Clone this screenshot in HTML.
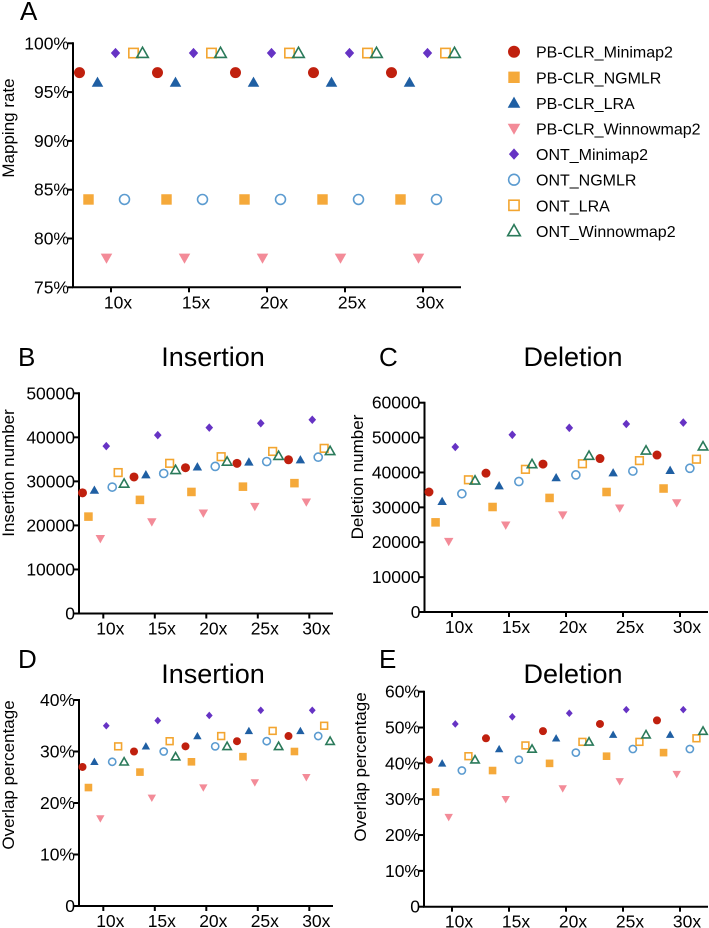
<!DOCTYPE html>
<html><head><meta charset="utf-8"><style>
html,body{margin:0;padding:0;background:#fff;}
svg{display:block;font-family:"Liberation Sans",Arial,sans-serif;}
</style></head><body>
<svg id="fig" width="709" height="928" viewBox="0 0 709 928" xmlns="http://www.w3.org/2000/svg">
<g id="static">
<text x="20" y="20" font-size="26">A</text>
<text x="18" y="366" font-size="26">B</text>
<text x="379" y="366" font-size="26">C</text>
<text x="18" y="668" font-size="26">D</text>
<text x="379" y="668" font-size="26">E</text>
<text x="213" y="366" font-size="27" text-anchor="middle">Insertion</text>
<text x="573" y="366" font-size="27" text-anchor="middle">Deletion</text>
<text x="213" y="683" font-size="27" text-anchor="middle">Insertion</text>
<text x="573" y="683" font-size="27" text-anchor="middle">Deletion</text>
<text transform="translate(14,128) rotate(-90)" font-size="17" text-anchor="middle">Mapping rate</text>
<text transform="translate(14,473) rotate(-90)" font-size="17" text-anchor="middle">Insertion number</text>
<text transform="translate(363,477) rotate(-90)" font-size="17" text-anchor="middle">Deletion number</text>
<text transform="translate(14,775) rotate(-90)" font-size="17" text-anchor="middle">Overlap percentage</text>
<text transform="translate(366,767) rotate(-90)" font-size="17" text-anchor="middle">Overlap percentage</text>
</g>
</svg>
<script>
const coverages = [10, 15, 20, 25, 30];
const seriesNames = ["PB-CLR_Minimap2","PB-CLR_NGMLR","PB-CLR_LRA","PB-CLR_Winnowmap2","ONT_Minimap2","ONT_NGMLR","ONT_LRA","ONT_Winnowmap2"];
const mappingRate = [
  [97,97,97,97,97],[84,84,84,84,84],[96,96,96,96,96],[78,78,78,78,78],
  [99,99,99,99,99],[84,84,84,84,84],[99,99,99,99,99],[99,99,99,99,99]];
const insertionNumber = [
  [27400,31000,33100,34100,34900],[22000,25800,27600,28800,29600],
  [28000,31500,33300,34400,34900],[17000,20800,22800,24300,25300],
  [38000,40500,42200,43200,44000],[28700,31800,33400,34500,35500],
  [32000,34100,35600,36800,37500],[29500,32600,34500,35800,36900]];
const deletionNumber = [
  [34400,39800,42400,44000,45000],[25700,30100,32700,34400,35400],
  [31700,36200,38500,39900,40600],[20200,24900,27800,29800,31300],
  [47300,50800,52800,53900,54300],[33900,37400,39300,40400,41200],
  [37900,40900,42500,43400,43800],[37700,42400,44800,46300,47500]];
const insertionOverlap = [
  [27,30,31,32,33],[23,26,28,29,30],[28,31,33,34,34],[17,21,23,24,25],
  [35,36,37,38,38],[28,30,31,32,33],[31,32,33,34,35],[28,29,31,31,32]];
const deletionOverlap = [
  [41,47,49,51,52],[32,38,40,42,43],[40,44,47,48,48],[25,30,33,35,37],
  [51,53,54,55,55],[38,41,43,44,44],[42,45,46,46,47],[41,44,46,48,49]];
const ticksA = [75,80,85,90,95,100];
const ticksB = [0,10000,20000,30000,40000,50000];
const ticksC = [0,10000,20000,30000,40000,50000,60000];
const ticksD = [0,10,20,30,40];
const ticksE = [0,10,20,30,40,50,60];

const styles = [
  {shape:"circle",fill:true,color:"#c0200e"},
  {shape:"square",fill:true,color:"#f5a93a"},
  {shape:"tri",fill:true,color:"#1f5fa3"},
  {shape:"tridown",fill:true,color:"#f38b98"},
  {shape:"diamond",fill:true,color:"#6633c4"},
  {shape:"circle",fill:false,color:"#5b9bd0"},
  {shape:"square",fill:false,color:"#f3a530"},
  {shape:"tri",fill:false,color:"#2a7a5a"}];

const NS = "http://www.w3.org/2000/svg";
const svg = document.getElementById("fig");
function mk(tag, attrs, parent){const e=document.createElementNS(NS,tag);for(const k in attrs)e.setAttribute(k,attrs[k]);(parent||svg).appendChild(e);return e;}

function marker(g, st, cx, cy, s){
  const h=s/2; let e;
  const paint = st.fill ? {fill:st.color,stroke:"none"} : {fill:"none",stroke:st.color,"stroke-width":1.6};
  if(st.shape==="circle") e=mk("circle",Object.assign({cx:cx,cy:cy,r:h*(st.fill?1:0.9)},paint),g);
  else if(st.shape==="square"){const q=h*(st.fill?0.95:0.85);e=mk("rect",Object.assign({x:cx-q,y:cy-q,width:2*q,height:2*q},paint),g);}
  else if(st.shape==="tri") e=mk("polygon",Object.assign({points:`${cx},${cy-h*1.05} ${cx-h*1.05},${cy+h*0.8} ${cx+h*1.05},${cy+h*0.8}`},paint),g);
  else if(st.shape==="tridown") e=mk("polygon",Object.assign({points:`${cx},${cy+h*1.05} ${cx-h*1.05},${cy-h*0.8} ${cx+h*1.05},${cy-h*0.8}`},paint),g);
  else e=mk("polygon",Object.assign({points:`${cx},${cy-h*0.95} ${cx+h*0.85},${cy} ${cx},${cy+h*0.95} ${cx-h*0.85},${cy}`},paint),g);
  return e;
}

function panel(p){
  const g = mk("g",{});
  
  
  const ymin=p.ticks[0], ymax=p.ticks[p.ticks.length-1];
  const y = v => p.bottom - (v-ymin)/(ymax-ymin)*(p.bottom-p.top);
  const x = c => p.x10 + (c-10)/5*p.sp;
  const off = i => (i-3.5)*p.sp*0.1154;
  const ax = mk("path",{d:`M${p.left},${p.top-1} V${p.bottom} H${p.right}`,fill:"none",stroke:"#000","stroke-width":2},g);
  
  
  p.ticks.forEach(t=>{
    mk("line",{x1:p.left-5,x2:p.left,y1:y(t),y2:y(t),stroke:"#000","stroke-width":2},g);
    const tl = mk("text",{x:p.left-4,y:y(t)+6,"font-size":17.5,"text-anchor":"end"},g);
    tl.textContent = p.fmt(t);
    
    
  });
  coverages.forEach(c=>{
    mk("line",{x1:x(c),x2:x(c),y1:p.bottom,y2:p.bottom+5,stroke:"#000","stroke-width":2},g);
    const tl = mk("text",{x:x(c)+7,y:p.bottom+21,"font-size":17.5,"text-anchor":"middle"},g);
    tl.textContent = c + "x";
    
    
  });
  p.data.forEach((ser,i)=>{
    ser.forEach((v,j)=>{
      const m = marker(g, styles[i], x(coverages[j])+off(i), y(v), p.ms);
      
      
    });
  });
}

const pct = t => t + "%";
const pct0 = t => t===0 ? "0" : t + "%";
panel({id:"a",data:mappingRate,ticks:ticksA,fmt:pct,left:73,right:461,top:43.3,bottom:287.3,x10:111,sp:78,ms:11});
panel({id:"b",data:insertionNumber,ticks:ticksB,fmt:String,left:79,right:333,top:393.3,bottom:613.5,x10:103.3,sp:51.5,ms:9});
panel({id:"c",data:deletionNumber,ticks:ticksC,fmt:String,left:424.5,right:708,top:402.7,bottom:612,x10:452,sp:57,ms:9});
panel({id:"d",data:insertionOverlap,ticks:ticksD,fmt:pct0,left:79,right:333,top:700,bottom:906,x10:103.3,sp:51.5,ms:8});
panel({id:"e",data:deletionOverlap,ticks:ticksE,fmt:pct0,left:424,right:708,top:691.7,bottom:906.7,x10:452,sp:57,ms:8});

// legend
const lg = mk("g",{});


seriesNames.forEach((n,i)=>{
  const cy = 51.7 + i*25.6;
  const m = marker(lg, styles[i], 514, cy, 12);
  
  
  const t = mk("text",{x:536,y:cy+6,"font-size":16},lg);
  t.textContent = n;
  
  
});
</script>
</body></html>
